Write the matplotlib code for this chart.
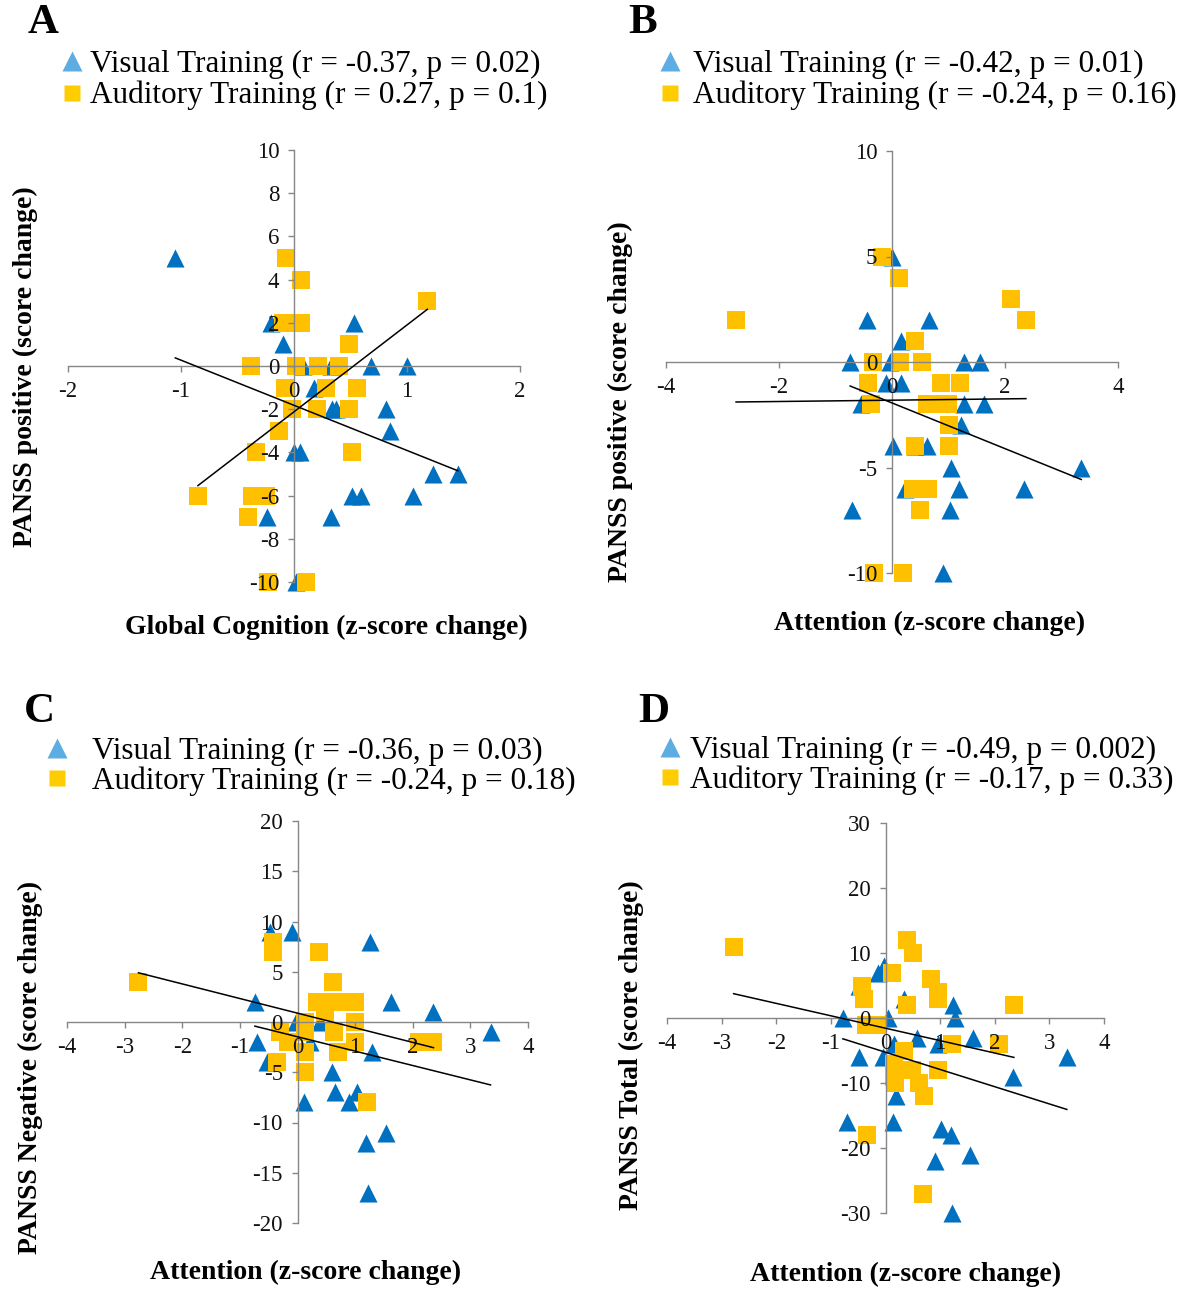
import numpy as np
import matplotlib
matplotlib.use('Agg')
import matplotlib.pyplot as plt
from matplotlib.lines import Line2D

plt.rcParams['font.family'] = ['Liberation Serif', 'DejaVu Serif']
plt.rcParams['axes.axisbelow'] = False

BLUE = '#0070C0'
YELLOW = '#FFC000'
LEG_BLUE = '#5DADE2'
LEG_YELLOW = '#FFCC00'
GREY = '#868686'

# ---- panel A : PANSS positive vs global cognition
a_vis_x = [-1.05, 0.53, -0.20, -0.10, 0.08, 0.33, 0.68, 1.00, 0.18, 0.34, 0.37, 0.81, 0.85,
           0.00, 0.05, 1.23, 1.45, 0.51, 0.59, 1.05, -0.24, 0.33, 0.02]
a_vis_y = [5, 2, 2, 1, 0, 0, 0, 0, -1, -2, -2, -2, -3,
           -4, -4, -5, -5, -6, -6, -6, -7, -7, -10]
a_aud_x = [-0.07, 0.06, 1.18, -0.10, 0.06, 0.49, -0.38, 0.02, 0.21, 0.40, -0.08, 0.28, 0.56,
           -0.02, 0.20, 0.49, -0.13, -0.34, 0.51, -0.85, -0.37, -0.25, -0.41, -0.23, 0.11]
a_aud_y = [5, 4, 3, 2, 2, 1, 0, 0, 0, 0, -1, -1, -1,
           -2, -2, -2, -3, -4, -4, -6, -6, -6, -7, -10, -10]
a_vis_fit = [-2.09, -1.82]   # slope, intercept
a_aud_fit = [4.02, -2.12]

# ---- panel B : PANSS positive vs attention
b_vis_x = [0.00, -0.44, 0.66, 0.16, -0.74, -0.03, 1.28, 1.55, -0.11, 0.16, -0.54, 1.28, 1.62,
           1.22, 0.01, 0.40, 0.62, 1.04, 0.23, 1.19, 2.34, -0.70, 1.03, 0.91, 3.35]
b_vis_y = [5, 2, 2, 1, 0, 0, 0, 0, -1, -1, -2, -2, -2,
           -3, -4, -4, -4, -5, -6, -6, -6, -7, -7, -10, -5]
b_aud_x = [-0.18, 0.13, 2.10, -2.76, 2.37, 0.41, -0.34, 0.15, 0.53, -0.42, 0.86, 1.21, -0.38,
           0.62, 0.81, 0.99, 1.00, 0.40, 1.00, 0.37, 0.64, 0.50, -0.31, 0.19]
b_aud_y = [5, 4, 3, 2, 2, 1, 0, 0, 0, -1, -1, -1, -2,
           -2, -2, -2, -3, -4, -4, -6, -6, -7, -10, -10]
b_vis_fit = [-1.083, -1.94]
b_aud_fit = [0.031, -1.81]

# ---- panel C : PANSS negative vs attention
c_vis_x = [-0.47, -0.10, 1.26, -0.74, 1.62, 2.35, 3.35, -0.02, 0.39, -0.70, 0.22, 1.29, -0.53,
           0.60, 0.65, 1.03, 0.89, 0.12, 1.54, 1.19, 1.22]
c_vis_y = [9, 9, 8, 2, 2, 1, -1, 0, 0, -2, -2, -3, -4,
           -5, -7, -7, -8, -8, -11, -12, -17]
c_aud_x = [-2.76, -0.42, -0.42, 0.38, 0.61, 0.33, 0.55, 0.82, 0.99, 0.48, 0.13, 1.00, -0.30,
           0.13, 0.64, -0.16, 1.00, 2.10, 2.36, 0.13, 0.71, -0.36, 0.13, 1.21]
c_aud_y = [4, 8, 7, 7, 4, 2, 2, 2, 2, 1, 0, 0, -1,
           -1, -1, -2, -2, -2, -2, -3, -3, -4, -5, -8]
c_vis_fit = [-1.43, -1.47]
c_aud_fit = [-1.455, 0.88]

# ---- panel D : PANSS total vs attention
d_vis_x = [-0.13, -0.02, -0.49, 0.33, 1.24, -0.78, 0.05, 1.27, 0.57, 1.61, 0.97, 0.16, -0.48,
           -0.05, 3.32, 2.33, 0.20, -0.71, 0.13, 1.02, 1.20, 1.54, 0.91, 1.21]
d_vis_y = [7, 8, 5, 3, 2, 0, 0, 0, -3, -3, -4, -4, -6,
           -6, -6, -9, -12, -16, -16, -17, -18, -21, -22, -30]
d_aud_x = [-2.78, 0.39, 0.51, 0.12, 0.83, -0.43, 0.97, -0.40, 0.97, 0.39, 2.35, -0.35, -0.16,
           0.33, 1.21, 2.07, 0.15, 0.48, 0.97, 0.15, 0.18, 0.62, 0.70, -0.34, 0.68]
d_aud_y = [11, 12, 10, 7, 6, 5, 4, 3, 3, 2, 2, -1, -1,
           -5, -4, -4, -7, -8, -8, -9, -10, -10, -12, -18, -27]
d_vis_fit = [-2.65, -5.27]
d_aud_fit = [-1.91, -1.57]

W, H = 1190, 1292
fig = plt.figure(figsize=(W / 100, H / 100), dpi=100)
LEG_FS = 22.5


def px_axes(x0, y0, x1, y1):
  return fig.add_axes([x0 / W, 1 - y1 / H, (x1 - x0) / W, (y1 - y0) / H])


def draw_panel(ax, vx, vy, ax_, ay, vfit, afit, xlim, ylim, xticks, yticks):
  ax.scatter(vx, vy, marker='^', s=13**2, color=BLUE, linewidths=0, zorder=1, clip_on=False)
  ax.scatter(ax_, ay, marker='s', s=12.5**2, color=YELLOW, linewidths=0, zorder=1.2, clip_on=False)
  for xs, fit in ((vx, vfit), (ax_, afit)):
    xr = np.array([min(xs), max(xs)])
    ax.plot(xr, fit[0] * xr + fit[1], color='black', lw=1.1, zorder=3)
  ax.set_xlim(xlim)
  ax.set_ylim(ylim)
  ax.set_xticks(xticks)
  ax.set_yticks(yticks)
  ax.set_xticklabels([str(t) for t in xticks])
  ax.set_yticklabels([str(t) for t in yticks])
  for s in ('top', 'right'):
    ax.spines[s].set_visible(False)
  for s in ('left', 'bottom'):
    ax.spines[s].set_position(('data', 0))
    ax.spines[s].set_color(GREY)
    ax.spines[s].set_linewidth(1.0)
  ax.tick_params(axis='both', direction='out', length=4.5, width=1.0, color=GREY,
                 labelsize=16.5, labelcolor='#111111', pad=6)
  ax.patch.set_alpha(0)


def legend(ax, x0, y0, labels, pad, spacing):
  hv = Line2D([], [], ls='none', marker='^', ms=14, color=LEG_BLUE, mec='none')
  ha = Line2D([], [], ls='none', marker='s', ms=12, color=LEG_YELLOW, mec='none')
  ax.legend([hv, ha], labels, loc='upper left', bbox_to_anchor=(x0 / W, 1 - y0 / H),
            bbox_transform=fig.transFigure, frameon=False, fontsize=LEG_FS,
            handlelength=0.6, handletextpad=pad, borderpad=0, borderaxespad=0,
            labelspacing=spacing)


axA = px_axes(68, 150, 520, 582)
draw_panel(axA, a_vis_x, a_vis_y, a_aud_x, a_aud_y, a_vis_fit, a_aud_fit,
           (-2, 2), (-10, 10), [-2, -1, 0, 1, 2], [10, 8, 6, 4, 2, 0, -2, -4, -6, -8, -10])
legend(axA, 63, 50, ['Visual Training (r = -0.37, p = 0.02)',
                     'Auditory Training (r = 0.27, p = 0.1)'], 0.26, 0.06)

axB = px_axes(666, 151, 1118, 573)
draw_panel(axB, b_vis_x, b_vis_y, b_aud_x, b_aud_y, b_vis_fit, b_aud_fit,
           (-4, 4), (-10, 10), [-4, -2, 0, 2, 4], [10, 5, 0, -5, -10])
legend(axB, 661, 50, ['Visual Training (r = -0.42, p = 0.01)',
                      'Auditory Training (r = -0.24, p = 0.16)'], 0.41, 0.06)

axC = px_axes(67, 821, 528, 1223)
draw_panel(axC, c_vis_x, c_vis_y, c_aud_x, c_aud_y, c_vis_fit, c_aud_fit,
           (-4, 4), (-20, 20), [-4, -3, -2, -1, 0, 1, 2, 3, 4], [20, 15, 10, 5, 0, -5, -10, -15, -20])
legend(axC, 48, 737, ['Visual Training (r = -0.36, p = 0.03)',
                      'Auditory Training (r = -0.24, p = 0.18)'], 0.82, 0.0)

axD = px_axes(667, 823, 1104, 1213)
draw_panel(axD, d_vis_x, d_vis_y, d_aud_x, d_aud_y, d_vis_fit, d_aud_fit,
           (-4, 4), (-30, 30), [-4, -3, -2, -1, 0, 1, 2, 3, 4], [30, 20, 10, 0, -10, -20, -30])
legend(axD, 661, 736, ['Visual Training (r = -0.49, p = 0.002)',
                       'Auditory Training (r = -0.17, p = 0.33)'], 0.34, 0.0)

# panel letters
for letter, x, y in (('A', 28, 23), ('B', 628, 23), ('C', 24, 712), ('D', 638, 712)):
  fig.text(x / W, 1 - y / H, letter, fontsize=31, fontweight='bold', va='center', ha='left')

# axis titles
xl = dict(fontsize=20, fontweight='bold', ha='center', va='center')
fig.text(326 / W, 1 - 627 / H, 'Global Cognition (z-score change)', **xl)
fig.text(930 / W, 1 - 623 / H, 'Attention (z-score change)', **xl)
fig.text(306 / W, 1 - 1272 / H, 'Attention (z-score change)', **xl)
fig.text(906 / W, 1 - 1274 / H, 'Attention (z-score change)', **xl)
yl = dict(fontsize=20, fontweight='bold', ha='center', va='center', rotation=90)
fig.text(25 / W, 1 - 367 / H, 'PANSS positive (score change)', **yl)
fig.text(620 / W, 1 - 402 / H, 'PANSS positive (score change)', **yl)
fig.text(30 / W, 1 - 1067 / H, 'PANSS Negative (score change)', **yl)
fig.text(631 / W, 1 - 1045 / H, 'PANSS Total (score change)', **yl)

fig.savefig('out.png', dpi=100, facecolor='white')
